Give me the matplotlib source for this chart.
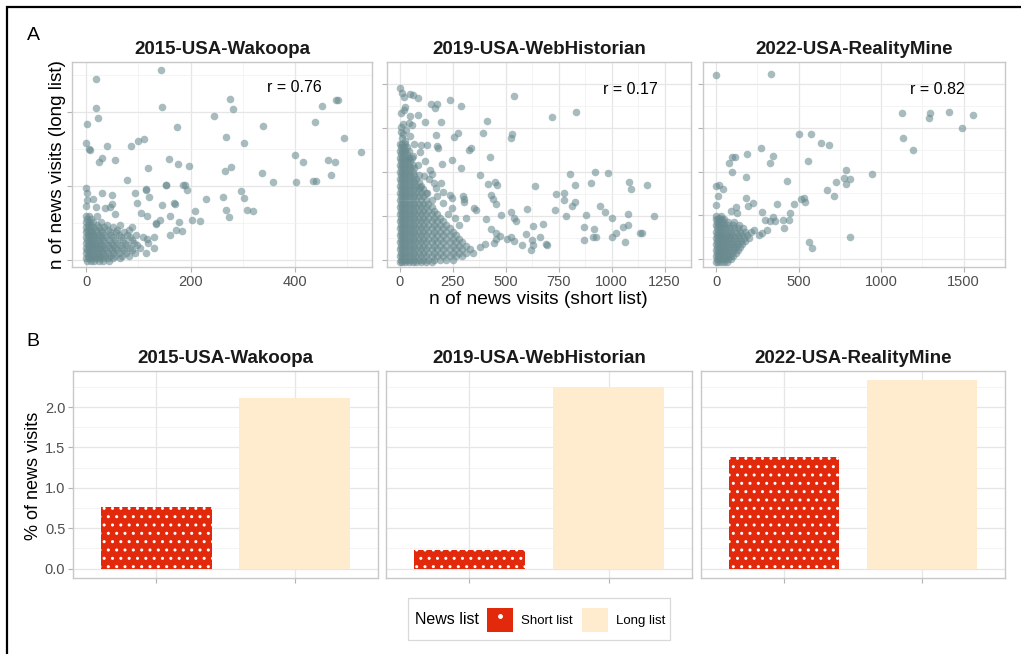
import numpy as np
import matplotlib
matplotlib.use("Agg")
import matplotlib.pyplot as plt
from matplotlib.patches import Patch, Rectangle
from matplotlib.lines import Line2D
from matplotlib.legend_handler import HandlerTuple

plt.rcParams['font.family'] = ['Liberation Sans', 'DejaVu Sans']
plt.rcParams['hatch.linewidth'] = 1.0

# ---- data ----
sources = ["2015-USA-Wakoopa", "2019-USA-WebHistorian", "2022-USA-RealityMine"]
r_values = [0.76, 0.17, 0.82]
list_names = ["Short list", "Long list"]
short_pct = [0.76, 0.23, 1.38]
long_pct = [2.11, 2.25, 2.33]

# scatter: (short list visits, long list visits) - y in tick units (labels hidden in original)
wak_points = [
    (276, 2.18), (478, 2.17), (481, 2.17), (452, 2.09), (282, 2.05), (244, 1.95), (437, 1.87),
    (339, 1.82), (494, 1.65), (268, 1.66), (302, 1.59), (526, 1.46), (197, 1.27), (399, 1.42),
    (415, 1.32), (462, 1.36), (476, 1.33), (265, 1.20), (278, 1.26), (337, 1.18), (357, 1.06),
    (401, 1.06), (435, 1.07), (439, 1.07), (469, 1.15), (186, 1.02), (190, 1.01), (193, 0.95),
    (230, 0.83), (262, 0.85), (296, 0.93), (302, 0.84), (308, 0.68), (320, 0.66), (267, 0.68),
    (274, 0.58), (209, 0.66), (203, 0.54), (218, 0.53), (183, 0.39),
    (143, 2.57), (19, 2.45), (19, 2.06), (145, 2.07), (23, 1.92), (1, 1.84), (174, 1.80),
    (0, 1.58), (6, 1.50), (8, 1.49), (40, 1.54), (85, 1.54), (100, 1.61), (110, 1.64),
    (24, 1.33), (30, 1.38), (55, 1.35), (118, 1.24), (159, 1.37), (175, 1.30), (78, 1.08),
    (152, 1.02), (0, 0.98), (2, 0.90), (1, 0.81), (0, 0.73), (14, 0.83), (30, 0.91), (49, 0.88),
    (49, 0.76), (46, 0.72), (19, 0.72), (36, 0.70), (55, 0.62), (97, 0.77), (114, 0.96),
    (121, 0.85), (153, 1.01), (170, 0.76), (161, 0.59), (177, 0.52), (105, 0.63), (116, 0.59),
    (133, 0.49), (142, 0.54), (161, 0.34), (172, 0.41), (168, 0.77), (146, 0.74), (94, 0.91),
    (114, 0.95), (134, 0.50), (129, 0.31), (116, 0.28), (87, 0.45),
]
wak_dense = [
    (0.60, [0, 6, 20]),
    (0.56, [2, 10]),
    (0.52, [0, 5, 14, 28]),
    (0.48, [3, 9, 20, 40, 65]),
    (0.445, [0, 6, 13, 24, 34, 52]),
    (0.41, [2, 9, 17, 28, 42, 60, 82]),
    (0.375, [0, 5, 12, 21, 31, 45, 58, 72]),
    (0.34, [3, 9, 16, 25, 35, 48, 62, 78, 95]),
    (0.305, [0, 6, 13, 20, 29, 39, 52, 66, 84, 108]),
    (0.27, [2, 9, 16, 24, 33, 44, 56, 70, 88]),
    (0.235, [0, 5, 12, 19, 27, 37, 48, 60, 74, 92, 118]),
    (0.20, [3, 9, 15, 23, 31, 41, 52, 64, 78, 98]),
    (0.165, [0, 6, 12, 19, 27, 35, 45, 56, 68, 84, 104, 130]),
    (0.13, [2, 8, 15, 22, 30, 39, 49, 60, 72, 88]),
    (0.095, [0, 5, 11, 18, 25, 33, 42, 52, 63, 76, 94, 115]),
    (0.06, [3, 9, 15, 22, 29, 37, 46, 56, 68, 82]),
    (0.025, [0, 6, 12, 18, 25, 33, 42, 52, 64]),
    (-0.01, [2, 9, 16, 24, 33, 44]),
]

web_points = [
    (0, 3.90), (10, 3.79), (21, 3.70), (49, 3.78), (64, 3.74), (86, 3.68), (238, 3.64), (541, 3.72),
    (148, 3.54), (167, 3.46), (173, 3.55), (290, 3.51), (26, 3.48), (6, 3.35), (49, 3.28), (86, 3.30),
    (17, 3.40), (119, 3.14), (196, 3.14), (45, 3.11), (57, 3.07), (411, 3.15), (717, 3.24), (832, 3.36),
    (4, 3.02), (15, 2.87), (171, 2.85), (257, 2.80), (276, 2.88), (393, 2.89), (528, 2.86), (524, 2.76),
    (49, 2.81), (68, 2.63), (98, 2.61), (129, 2.60), (173, 2.58), (180, 2.54), (328, 2.50), (335, 2.55),
    (425, 2.34), (247, 2.27), (45, 2.32), (97, 2.45), (61, 2.35), (87, 2.15), (197, 2.18), (287, 2.09),
    (380, 1.92), (414, 1.72), (449, 1.77), (460, 1.70), (640, 1.68), (803, 1.95), (920, 2.00), (984, 1.97),
    (903, 1.75), (828, 1.70), (1083, 1.77), (1092, 1.62), (1169, 1.69), (196, 1.74), (112, 1.90),
    (136, 1.84), (170, 1.63), (94, 1.66), (126, 1.53), (202, 1.55), (237, 1.48), (296, 1.44), (303, 1.39),
    (430, 1.47), (438, 1.39), (247, 1.18), (302, 1.31), (348, 1.17), (361, 1.14), (453, 1.27), (312, 0.96),
    (408, 0.93), (479, 1.01), (527, 1.08), (537, 0.96), (550, 0.89), (602, 1.16), (629, 0.77), (678, 0.82),
    (736, 1.49), (773, 1.51), (775, 1.37), (733, 1.13), (825, 1.31), (815, 1.22), (783, 1.00), (878, 1.01),
    (945, 1.23), (971, 1.08), (1002, 0.96), (1079, 1.04), (1199, 1.00), (870, 0.74), (919, 0.69),
    (910, 0.52), (924, 0.52), (870, 0.46), (1000, 0.51), (1022, 0.60), (1053, 0.74), (1077, 0.78),
    (1063, 0.41), (1134, 0.61), (1142, 0.61), (594, 0.59), (624, 0.46), (630, 0.34), (660, 0.52),
    (688, 0.35), (695, 0.34), (620, 0.22), (525, 0.52), (508, 0.48), (475, 0.53), (576, 0.34),
    (537, 0.42), (454, 0.48), (446, 0.39), (402, 0.36), (380, 0.29), (431, 0.70), (453, 0.60),
    (8, 2.78), (22, 2.70), (4, 2.90), (30, 2.95), (14, 3.10), (120, 2.25), (150, 1.95), (140, 2.05),
    (205, 1.30), (225, 1.05), (260, 0.95), (280, 0.80), (245, 1.40), (175, 1.45), (160, 1.75),
]
web_dense = [
    (2.64, [0, 12, 26]),
    (2.56, [5, 18, 34]),
    (2.48, [0, 12, 26, 42]),
    (2.40, [5, 18, 34]),
    (2.32, [0, 12, 26, 42, 58]),
    (2.24, [5, 18, 34, 50]),
    (2.16, [0, 12, 26, 42, 60]),
    (2.08, [5, 18, 34, 50, 68]),
    (2.00, [0, 12, 26, 42, 60]),
    (1.92, [5, 18, 34, 50, 68, 90]),
    (1.84, [0, 12, 26, 42, 60, 78]),
    (1.76, [5, 18, 34, 50, 68, 88]),
    (1.68, [0, 12, 26, 42, 60, 78, 100]),
    (1.60, [5, 18, 34, 50, 68, 88, 110]),
    (1.52, [0, 12, 26, 42, 60, 78, 100, 125]),
    (1.44, [5, 18, 34, 50, 68, 88, 110]),
    (1.36, [0, 12, 26, 42, 60, 78, 100, 125, 150]),
    (1.28, [5, 18, 34, 50, 68, 88, 110, 135]),
    (1.20, [0, 12, 26, 42, 60, 78, 100, 125, 150]),
    (1.12, [5, 18, 34, 50, 68, 88, 110, 135, 160]),
    (1.04, [0, 12, 26, 42, 60, 78, 100, 125, 150, 175]),
    (0.96, [5, 18, 34, 50, 68, 88, 110, 135, 160, 190]),
    (0.88, [0, 12, 26, 42, 60, 78, 100, 125, 150, 175, 205]),
    (0.80, [5, 18, 34, 50, 68, 88, 110, 135, 160, 190, 220]),
    (0.72, [0, 12, 26, 42, 60, 78, 100, 125, 150, 175, 205, 235]),
    (0.64, [5, 18, 34, 50, 68, 88, 110, 135, 160, 190, 220, 250]),
    (0.56, [0, 12, 26, 42, 60, 78, 100, 125, 150, 175, 205, 235, 265]),
    (0.48, [5, 18, 34, 50, 68, 88, 110, 135, 160, 190, 220, 250, 280]),
    (0.40, [0, 12, 26, 42, 60, 78, 100, 125, 150, 175, 205, 235, 265, 295]),
    (0.32, [5, 18, 34, 50, 68, 88, 110, 135, 160, 190, 220, 250, 280, 310]),
    (0.24, [0, 12, 26, 42, 60, 78, 100, 125, 150, 175, 205, 235, 265, 295, 330]),
    (0.16, [5, 18, 34, 50, 68, 88, 110, 135, 160, 190, 220, 250, 280, 310, 345]),
    (0.08, [0, 12, 26, 42, 60, 78, 100, 125, 150, 175, 205, 235, 265, 295]),
    (0.00, [5, 18, 34, 50, 68, 88, 110, 135, 160, 190, 220, 250]),
    (-0.06, [0, 12, 26, 42, 60, 78, 100, 125, 150]),
]

rm_points = [
    (0, 4.21), (330, 4.23), (1128, 3.34), (1296, 3.33), (1291, 3.22), (1409, 3.35), (1558, 3.30),
    (1489, 2.99), (1130, 2.76), (1191, 2.50), (504, 2.85), (575, 2.85), (638, 2.64), (685, 2.60),
    (275, 2.54), (343, 2.36), (328, 2.19), (558, 2.23), (185, 2.40), (98, 2.34), (115, 2.34),
    (81, 2.20), (98, 2.00), (179, 1.87), (432, 1.78), (789, 2.04), (777, 1.85), (811, 1.84),
    (943, 1.95), (728, 1.75), (672, 1.57), (715, 1.43), (785, 1.71), (0, 1.68), (17, 1.70),
    (42, 1.61), (13, 1.45), (0, 1.23), (183, 1.39), (192, 1.21), (223, 1.29), (368, 1.26),
    (474, 1.25), (517, 1.38), (532, 1.39), (536, 1.30), (447, 1.06), (277, 1.08), (342, 0.97),
    (294, 0.90), (408, 0.89), (443, 0.89), (409, 0.70), (328, 0.86), (357, 0.86), (232, 0.67),
    (262, 0.56), (277, 0.60), (306, 0.67), (813, 0.50), (560, 0.38), (579, 0.26), (92, 1.10),
    (121, 1.18), (126, 1.06), (15, 0.95), (36, 0.91),
]
rm_dense = [
    (0.98, [2, 30]),
    (0.91, [0, 14, 50]),
    (0.84, [5, 22, 40, 70, 110]),
    (0.77, [0, 14, 30, 50, 75, 100, 140]),
    (0.70, [5, 22, 40, 60, 82, 108, 135, 165]),
    (0.63, [0, 14, 30, 50, 70, 92, 118, 145, 175, 210]),
    (0.56, [5, 22, 40, 60, 82, 105, 130, 158, 190]),
    (0.49, [0, 14, 30, 50, 70, 92, 115, 140, 168, 200]),
    (0.42, [5, 22, 40, 60, 80, 102, 125, 150, 178]),
    (0.35, [0, 14, 30, 48, 68, 88, 110, 135, 160]),
    (0.28, [5, 22, 40, 58, 78, 100, 122, 148]),
    (0.21, [0, 14, 30, 48, 66, 86, 108, 130]),
    (0.14, [5, 22, 38, 56, 75, 95, 118]),
    (0.07, [0, 14, 30, 46, 64, 84, 104]),
    (0.00, [5, 20, 36, 54, 72, 92]),
    (-0.06, [0, 14, 30, 48, 68]),
]

x_ticks = [[0, 200, 400], [0, 250, 500, 750, 1000, 1250], [0, 500, 1000, 1500]]
x_limits = [(-27, 547), (-61, 1263), (-79, 1630)]
y_limits = [(-0.095, 2.68), (-0.165, 4.06), (-0.18, 4.43)]

# ---- styling ----
W, H = 1021, 654
point_color = "#698a8f"
short_color = "#e3290c"
long_color = "#ffebcd"
grid_major = "#e6e6e6"
grid_minor = "#f0f0f0"
border = "#c8c8c8"
tick_label = "#4d4d4d"


def box(l, t, r, b):
    return [l / W, 1 - b / H, (r - l) / W, (b - t) / H]


def style_axes(ax):
    for s in ax.spines.values():
        s.set_color(border)
        s.set_linewidth(1.0)
    ax.grid(True, which="major", color=grid_major, linewidth=0.9)
    ax.grid(True, which="minor", color=grid_minor, linewidth=0.5)
    ax.set_axisbelow(True)
    ax.tick_params(which="major", color="#b3b3b3", length=3.5, width=0.8,
                   labelcolor=tick_label, labelsize=10.5, pad=2)
    ax.tick_params(which="minor", length=0)


def expand(points, dense):
    xs = [p[0] for p in points]
    ys = [p[1] for p in points]
    for yv, row in dense:
        xs += row
        ys += [yv] * len(row)
    return xs, ys


fig = plt.figure(figsize=(W / 100, H / 100), dpi=100)

scatter_boxes = [(72, 62, 372, 267), (387, 62, 691, 267), (703, 62, 1005, 267)]
bar_boxes = [(73, 371, 378, 578), (386, 371, 692, 578), (701, 371, 1005, 578)]
scatter_sets = [(wak_points, wak_dense), (web_points, web_dense), (rm_points, rm_dense)]
r_pos = [(0.74, 0.878), (0.80, 0.868), (0.775, 0.868)]

for i in range(3):
    ax = fig.add_axes(box(*scatter_boxes[i]))
    xs, ys = expand(*scatter_sets[i])
    ax.scatter(xs, ys, s=30, color=point_color, alpha=0.58, linewidths=0)
    ax.set_xlim(*x_limits[i])
    ax.set_ylim(*y_limits[i])
    ax.set_xticks(x_ticks[i])
    step = x_ticks[i][1] - x_ticks[i][0]
    ax.set_xticks([t + step / 2 for t in x_ticks[i]], minor=True)
    ymax = int(y_limits[i][1])
    ax.set_yticks(range(0, ymax + 1))
    ax.set_yticks([k + 0.5 for k in range(0, ymax + 1)], minor=True)
    ax.set_yticklabels([])
    style_axes(ax)
    ax.set_title(sources[i], fontsize=13.5, fontweight="bold", color="#1a1a1a", pad=6)
    ax.text(r_pos[i][0], r_pos[i][1], f"r = {r_values[i]:.2f}", transform=ax.transAxes,
            ha="center", va="center", fontsize=11.5, color="black")

for i in range(3):
    ax = fig.add_axes(box(*bar_boxes[i]))
    ax.bar([1], [short_pct[i]], width=0.8, color=short_color, hatch="..",
           edgecolor="white", linewidth=0)
    ax.bar([2], [long_pct[i]], width=0.8, color=long_color, linewidth=0)
    ax.set_xlim(0.4, 2.6)
    ax.set_ylim(-0.1165, 2.4465)
    ax.set_xticks([1, 2])
    ax.set_xticklabels([])
    ax.set_yticks([0, 0.5, 1.0, 1.5, 2.0])
    ax.set_yticks([0.25, 0.75, 1.25, 1.75, 2.25], minor=True)
    style_axes(ax)
    if i == 0:
        ax.set_yticklabels(["0.0", "0.5", "1.0", "1.5", "2.0"])
    else:
        ax.set_yticklabels([])
        ax.tick_params(axis="y", which="major", length=0)
    ax.set_title(sources[i], fontsize=13.5, fontweight="bold", color="#1a1a1a", pad=6)

# axis labels
fig.text(57 / W, 1 - 165 / H, "n of news visits (long list)", rotation=90,
         ha="center", va="center", fontsize=13.6)
fig.text(538 / W, 1 - 300 / H, "n of news visits (short list)",
         ha="center", va="center", fontsize=13.8)
fig.text(33 / W, 1 - 476 / H, "% of news visits", rotation=90,
         ha="center", va="center", fontsize=13)

# panel letters
fig.text(33 / W, 1 - 35 / H, "A", ha="center", va="center", fontsize=14)
fig.text(33 / W, 1 - 342 / H, "B", ha="center", va="center", fontsize=14)

# legend
fig.add_artist(Rectangle((408 / W, 1 - 640 / H), 262 / W, 42 / H, transform=fig.transFigure,
                         fill=False, edgecolor="#d9d9d9", linewidth=0.9))
fig.text(415 / W, 1 - 620 / H, "News list", ha="left", va="center", fontsize=11.5)
short_key = (Patch(facecolor=short_color, edgecolor="none"),
             Line2D([], [], linestyle="none", marker="o", markersize=2.5,
                    markerfacecolor="white", markeredgecolor="white"))
long_key = Patch(facecolor=long_color, edgecolor="none")
fig.legend([short_key, long_key], list_names, ncol=2, frameon=False, loc="center",
           bbox_to_anchor=(576 / W, 1 - 620 / H), fontsize=9.5,
           handlelength=2.0, handleheight=2.5, handletextpad=0.6, columnspacing=0.7,
           handler_map={tuple: HandlerTuple(ndivide=1, pad=0)})

# outer frame
fig.add_artist(Rectangle((7 / W, -0.05), 1.1, 1 - 7 / H + 0.05, transform=fig.transFigure,
                         fill=False, edgecolor="black", linewidth=1.6))

fig.savefig("out.png", dpi=100)
